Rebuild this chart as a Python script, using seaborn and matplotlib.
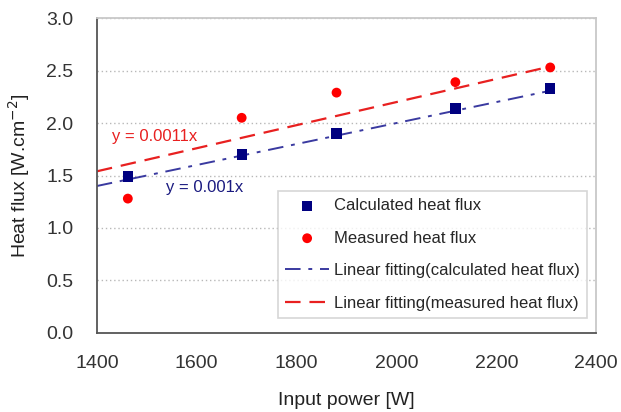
import numpy as np
import pandas as pd
import matplotlib
matplotlib.use("Agg")
import matplotlib.pyplot as plt
import seaborn as sns

power = [1462, 1690, 1880, 2118, 2308]
calc_flux = [1.49, 1.70, 1.90, 2.14, 2.33]
meas_flux = [1.28, 2.05, 2.29, 2.39, 2.53]
fit_x = [1400, 2315]
calc_slope = 0.001
meas_slope = 0.0011

sns.set_style("white")
plt.rcParams["font.family"] = ["Liberation Sans", "DejaVu Sans"]

fig = plt.figure(figsize=(6.21, 4.12), dpi=100)
ax = fig.add_axes([0.156, 0.192, 0.804, 0.764])

fits = pd.DataFrame({
    "x": fit_x,
    "calc": [calc_slope * v for v in fit_x],
    "meas": [meas_slope * v for v in fit_x],
})
pts = pd.DataFrame({"x": power, "calc": calc_flux, "meas": meas_flux})

sns.lineplot(data=fits, x="x", y="calc", ax=ax, color="#3a3aa0", lw=1.4,
             linestyle=(0, (8, 4, 2, 4)),
             label="Linear fitting(calculated heat flux)")
sns.lineplot(data=fits, x="x", y="meas", ax=ax, color="#e82020", lw=1.6,
             linestyle=(0, (7, 4)),
             label="Linear fitting(measured heat flux)")
sns.scatterplot(data=pts, x="x", y="calc", ax=ax, marker="s", s=55,
                color="#000080", edgecolor="none", label="Calculated heat flux", zorder=5)
sns.scatterplot(data=pts, x="x", y="meas", ax=ax, marker="o", s=50,
                color="#ff0000", edgecolor="none", label="Measured heat flux", zorder=5)

ax.set_xlim(1400, 2400)
ax.set_ylim(0, 3.0)
ax.set_xticks(range(1400, 2401, 200))
ax.set_yticks(np.arange(0, 3.01, 0.5))
ax.set_yticklabels([f"{v:.1f}" for v in np.arange(0, 3.01, 0.5)])
for y in np.arange(0.5, 3.01, 0.5):
    ax.axhline(y, color="#b8b8b8", lw=1, linestyle=(0, (1, 2)), zorder=0)

ax.tick_params(axis="x", direction="in", length=4, labelsize=14, pad=16,
               color="#666666", labelcolor="#333333")
ax.tick_params(axis="y", length=0, labelsize=14, pad=17, labelcolor="#333333")
ax.set_xlabel("Input power [W]", fontsize=14, labelpad=14, color="#222222")
ax.set_ylabel("Heat flux [W.cm$^{-2}$]", fontsize=14, labelpad=10, color="#222222")

for side in ["left", "bottom"]:
    ax.spines[side].set_color("#555555")
    ax.spines[side].set_linewidth(1.3)
for side in ["top", "right"]:
    ax.spines[side].set_color("#c8c8c8")
    ax.spines[side].set_linewidth(1.3)

ax.text(1430, 1.87, "y = 0.0011x", color="#e82020", fontsize=12, va="center")
ax.text(1538, 1.39, "y = 0.001x", color="#1a1a80", fontsize=12, va="center")

handles, labels = ax.get_legend_handles_labels()
order = [2, 3, 0, 1]
leg = ax.legend([handles[i] for i in order], [labels[i] for i in order],
                loc="lower right", bbox_to_anchor=(0.982, 0.047), fontsize=12,
                frameon=True, fancybox=False, edgecolor="#cccccc",
                handlelength=2.6, handletextpad=0.3, labelspacing=1.05,
                borderpad=0.45, borderaxespad=0)
leg.get_frame().set_linewidth(1.2)

fig.savefig("out.png", dpi=100)
